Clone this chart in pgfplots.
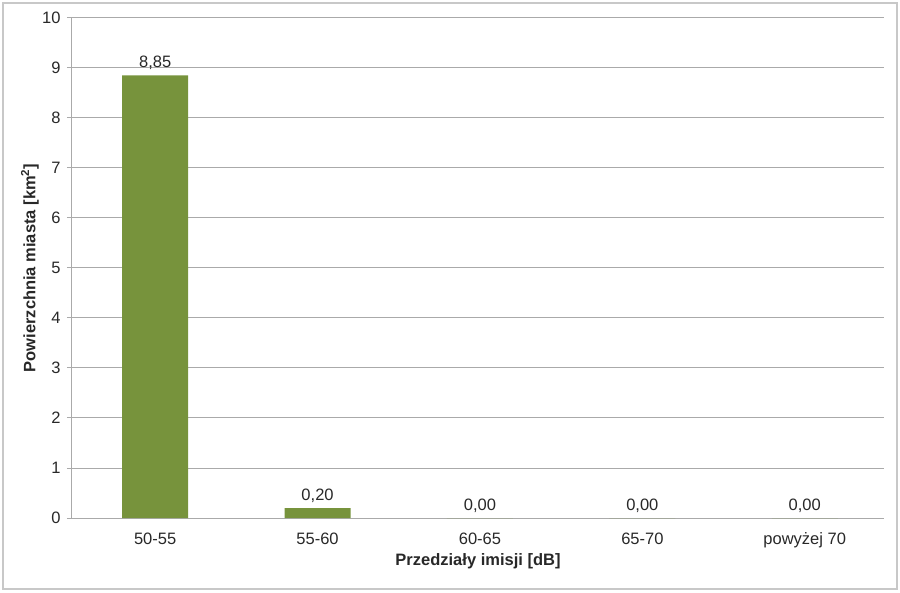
\documentclass[border=0pt]{standalone}
\usepackage{pgfplots}
\pgfplotsset{compat=1.18}
\usepackage{fontspec}
\setmainfont{Liberation Sans}
\definecolor{barc}{RGB}{119,147,60}
\definecolor{gridc}{RGB}{170,170,170}
\definecolor{framec}{RGB}{200,200,200}
\definecolor{txt}{RGB}{40,40,40}
\begin{document}
\begin{tikzpicture}[x=1pt,y=1pt]
\path (0,0) rectangle (900,592);
\draw[framec, line width=1.5pt] (3,3) rectangle (897,589);
\begin{axis}[
  at={(72pt,74pt)}, anchor=south west,
  scale only axis, width=812pt, height=500pt,
  xmin=-0.512, xmax=4.488, ymin=0, ymax=10,
  ybar, bar width=66pt,
  xtick={0,...,4},
  xticklabels={50-55,55-60,60-65,65-70,powyżej 70},
  x tick style={draw=none},
  ytick={0,...,10},
  ymajorgrids, grid style={gridc, line width=1pt},
  axis lines*=left,
  axis line style={-, gridc, line width=1pt},
  y tick style={gridc, line width=1pt},
  tick align=outside, major tick length=5pt,
  /pgf/number format/assume math mode=true,
  tick label style={font=\fontsize{16.5}{19}\selectfont, text=txt},
  xticklabel style={yshift=-6pt},
  yticklabel style={xshift=-3pt},
  label style={font=\bfseries\fontsize{16.5}{19}\selectfont, text=txt},
  xlabel={Przedziały imisji [dB]},
  ylabel={Powierzchnia miasta [km\textsuperscript{2}]},
  xlabel style={at={(axis description cs:0.5,-0.086)}, anchor=center},
  ylabel style={at={(axis description cs:-0.0517,0.5)}, anchor=center},
  nodes near coords={\pgfmathprintnumber[fixed, fixed zerofill, precision=2, use comma]{\pgfplotspointmeta}},
  nodes near coords style={font=\fontsize{16.5}{19}\selectfont, text=txt, yshift=2pt},
]
\addplot[fill=barc, draw=none] coordinates {(0,8.85) (1,0.20) (2,0) (3,0) (4,0)};
\end{axis}
\end{tikzpicture}
\end{document}
